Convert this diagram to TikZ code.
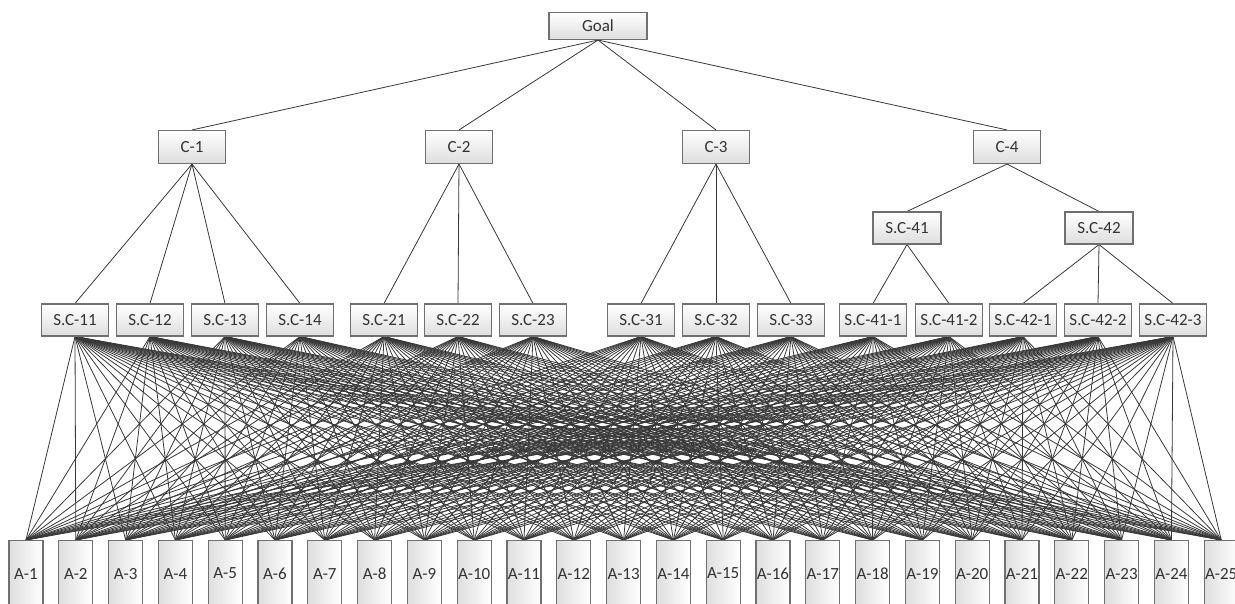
\documentclass[tikz,border=0pt]{standalone}
\usepackage{fontspec}
\setmainfont{Carlito}
\usetikzlibrary{backgrounds}
\definecolor{boxborder}{HTML}{707070}
\definecolor{boxfill}{HTML}{DEDEDE}
\definecolor{textcol}{HTML}{333333}
\definecolor{linecol}{HTML}{383838}
\begin{document}
\begin{tikzpicture}[x=1pt,y=-1pt,
  box/.style={draw=boxborder, line width=1.1pt, top color=white, bottom color=boxfill,
    minimum width=67pt, minimum height=32pt, inner sep=0pt,
    font=\fontsize{17}{19}\selectfont, text=textcol},
  abox/.style={draw=boxborder, line width=1.1pt, left color=boxfill, right color=white,
    minimum width=34pt, minimum height=66pt, inner sep=0pt, anchor=north,
    font=\fontsize{17}{19}\selectfont, text=textcol},
  link/.style={draw=linecol, line width=0.8pt}]
\useasboundingbox (0,0) rectangle (1235,604);
\clip (0,0) rectangle (1235,604);
% top levels
\node[box, minimum width=98pt, minimum height=27pt] (goal) at (598,26) {Goal};
\node[box, minimum height=33pt] (c1) at (192,147) {C-1};
\node[box, minimum height=33pt] (c2) at (459,147) {C-2};
\node[box, minimum height=33pt] (c3) at (716,147) {C-3};
\node[box, minimum height=33pt] (c4) at (1007,147) {C-4};
\node[box, minimum width=68pt] (s41) at (907,228) {S.C-41};
\node[box, minimum width=68pt] (s42) at (1099,228) {S.C-42};
% sub-criteria
\foreach \n/\x in {11/75,12/150,13/225,14/300,21/384,22/458,23/533,31/641,32/716,33/791,41-1/873,41-2/949,42-1/1023,42-2/1098,42-3/1173}
  \node[box] (s\n) at (\x,320) {S.C-\n};
% alternatives
\foreach \k in {1,...,25}
  \node[abox] (a\k) at ({26+(\k-1)*49.8},540) {A-\k};
\begin{pgfonlayer}{background}
\foreach \c in {c1,c2,c3,c4} \draw[link] (goal.south) -- (\c.north);
\foreach \s in {11,12,13,14} \draw[link] (c1.south) -- (s\s.north);
\foreach \s in {21,22,23} \draw[link] (c2.south) -- (s\s.north);
\foreach \s in {31,32,33} \draw[link] (c3.south) -- (s\s.north);
\foreach \s in {41,42} \draw[link] (c4.south) -- (s\s.north);
\foreach \s in {41-1,41-2} \draw[link] (s41.south) -- (s\s.north);
\foreach \s in {42-1,42-2,42-3} \draw[link] (s42.south) -- (s\s.north);
\foreach \s in {11,12,13,14,21,22,23,31,32,33,41-1,41-2,42-1,42-2,42-3}
  \foreach \k in {1,...,25}
    \draw[link] (s\s.south) -- (a\k.north);
\end{pgfonlayer}
\end{tikzpicture}
\end{document}
